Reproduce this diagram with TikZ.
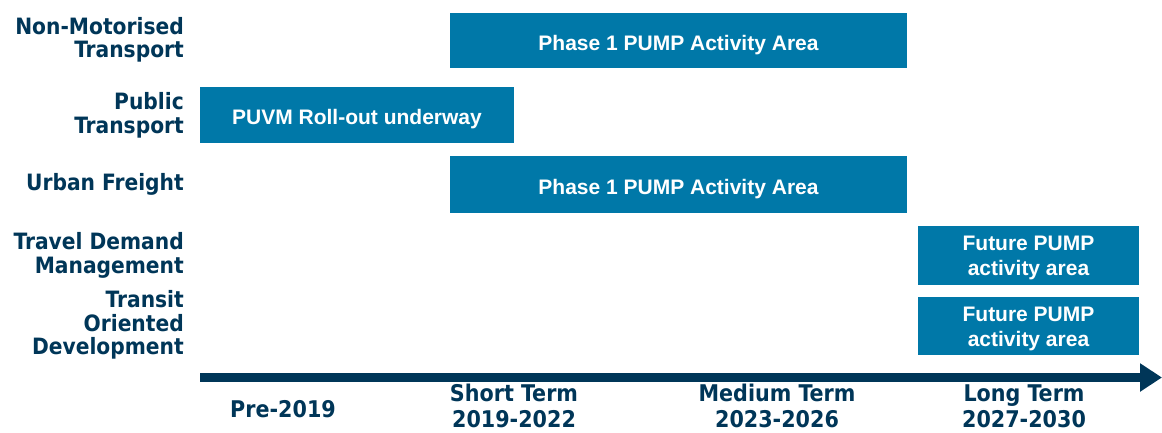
\documentclass[tikz,border=0pt]{standalone}
\usepackage{fontspec}
\setmainfont{Liberation Sans}
\newfontfamily\labfont{DejaVu Sans Condensed}[BoldFont={DejaVu Sans Condensed Bold}]
\usetikzlibrary{arrows.meta}
\definecolor{boxblue}{RGB}{0,120,168}
\definecolor{navy}{RGB}{0,54,88}
\tikzset{
  bar/.style={fill=boxblue, draw=none},
  bartext/.style={text=white, font=\fontsize{21}{24.5}\selectfont\bfseries, align=center, inner sep=0pt},
  rowlab/.style={anchor=east, text=navy, align=right, font=\labfont\fontsize{22.5}{23.5}\selectfont\bfseries, inner sep=0pt},
  axlab/.style={text=navy, align=center, font=\labfont\fontsize{23}{26}\selectfont\bfseries, inner sep=0pt},
}
\begin{document}
\begin{tikzpicture}[x=1pt,y=-1pt]
\useasboundingbox (0,0) rectangle (1162,432);
% bars
\fill[bar] (450,13) rectangle (907,68);
\node[bartext] (b1) at (678.5,45) {Phase 1 PUMP Activity Area};
\fill[bar] (200,87) rectangle (514,143);
\node[bartext] (b2) at (357,119.5) {PUVM Roll-out underway};
\fill[bar] (450,156) rectangle (907,213);
\node[bartext] (b3) at (678.5,189) {Phase 1 PUMP Activity Area};
\fill[bar] (918,226) rectangle (1139,285);
\node[bartext] (b4) at (1028.5,258) {Future PUMP\\activity area};
\fill[bar] (918,297) rectangle (1139,355);
\node[bartext] (b5) at (1028.5,329) {Future PUMP\\activity area};
% row labels
\node[rowlab] (l1) at (184,40) {Non-Motorised\\Transport};
\node[rowlab] (l2) at (184,115.5) {Public\\Transport};
\node[rowlab] (l3) at (184,184) {Urban Freight};
\node[rowlab] (l4) at (184,255.5) {Travel Demand\\Management};
\node[rowlab] (l5) at (184,325) {Transit\\Oriented\\Development};
% axis
\coordinate (a0) at (200,377.5);
\coordinate (a1) at (1162,377.5);
\draw[navy, line width=8.5pt, -{Triangle[length=22pt,width=27pt]}] (a0) -- (a1);
\node[axlab] (t0) at (283,409) {Pre-2019};
\node[axlab] (t1) at (514,406) {Short Term\\2019-2022};
\node[axlab] (t2) at (777,406) {Medium Term\\2023-2026};
\node[axlab] (t3) at (1024,406) {Long Term\\2027-2030};
\end{tikzpicture}
\end{document}
